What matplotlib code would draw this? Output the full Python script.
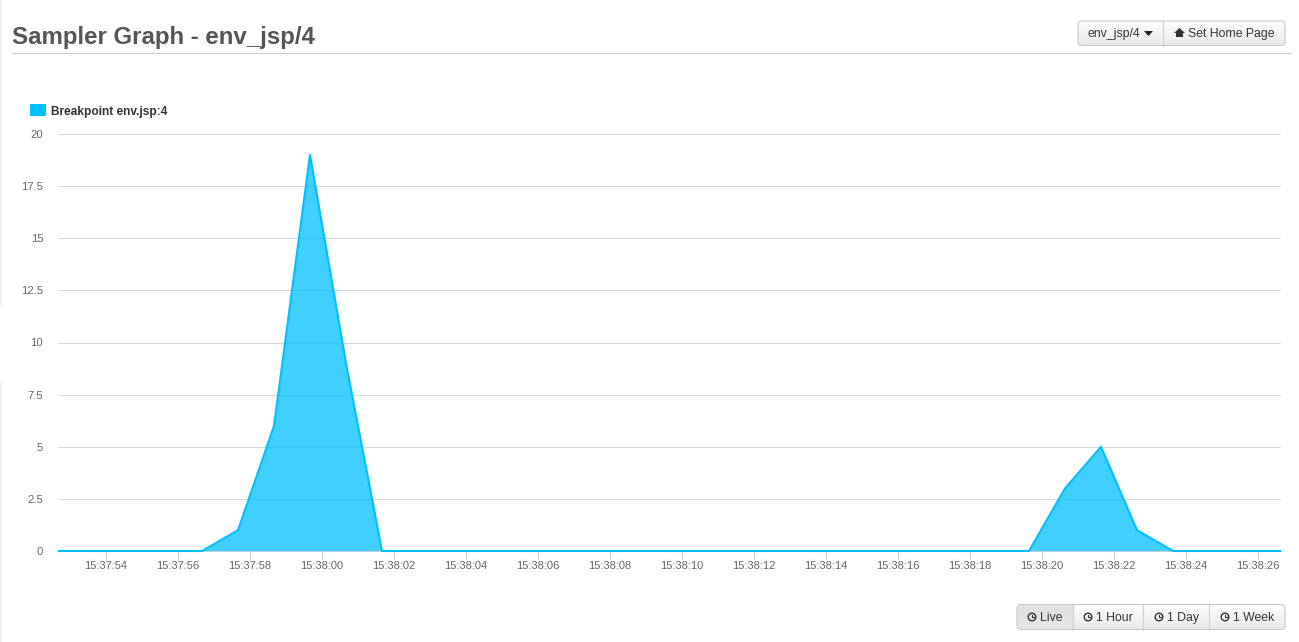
import numpy as np
import matplotlib
matplotlib.use("Agg")
import matplotlib.pyplot as plt
from matplotlib.patches import FancyBboxPatch, Rectangle, Polygon, Circle

# ---- data ----
title_text = "Sampler Graph - env_jsp/4"
series_name = "Breakpoint env.jsp:4"
# seconds after 15:37:00 for each sample
sample_seconds = [52.68, 53.68, 54.68, 55.68, 56.68, 57.68, 58.68, 59.68, 60.68, 61.68,
                  62.67, 63.67, 64.67, 65.67, 66.67, 67.66, 68.66, 69.66, 70.66, 71.66,
                  72.65, 73.65, 74.65, 75.65, 76.65, 77.65, 78.65, 79.65, 80.65, 81.65,
                  82.65, 83.65, 84.65, 85.65, 86.65]
sample_values = [0, 0, 0, 0, 0, 1, 6, 19, 9, 0,
                 0, 0, 0, 0, 0, 0, 0, 0, 0, 0,
                 0, 0, 0, 0, 0, 0, 0, 0, 3, 5,
                 1, 0, 0, 0, 0]
x_tick_seconds = [54, 56, 58, 60, 62, 64, 66, 68, 70, 72, 74, 76, 78, 80, 82, 84, 86]
x_tick_labels = ["15:37:54", "15:37:56", "15:37:58", "15:38:00", "15:38:02", "15:38:04",
                 "15:38:06", "15:38:08", "15:38:10", "15:38:12", "15:38:14", "15:38:16",
                 "15:38:18", "15:38:20", "15:38:22", "15:38:24", "15:38:26"]
y_ticks = [0, 2.5, 5, 7.5, 10, 12.5, 15, 17.5, 20]
y_tick_labels = ["0", "2.5", "5", "7.5", "10", "12.5", "15", "17.5", "20"]
top_buttons = ["env_jsp/4", "Set Home Page"]
range_buttons = ["Live", "1 Hour", "1 Day", "1 Week"]

# ---- figure ----
W, H = 1299, 642
plt.rcParams['font.family'] = ['Liberation Sans', 'DejaVu Sans']
fig = plt.figure(figsize=(W / 100, H / 100), dpi=100, facecolor="white")

L, R, T, B = 58, 1281, 134, 551
ax = fig.add_axes([L / W, 1 - B / H, (R - L) / W, (B - T) / H])
ax.set_xlim(52.68, 86.65)
ax.set_ylim(0, 20)
for s in ("top", "left", "right"):
    ax.spines[s].set_visible(False)
ax.spines["bottom"].set_color("#C0D0E0")
ax.spines["bottom"].set_linewidth(0.72)
ax.set_axisbelow(True)
ax.yaxis.grid(True, color="#D8D8D8", lw=0.72)
ax.set_yticks(y_ticks)
ax.set_yticklabels(y_tick_labels)
ax.set_xticks(x_tick_seconds)
ax.set_xticklabels(x_tick_labels)
ax.tick_params(axis="y", length=0, pad=10.6, labelsize=8.1, labelcolor="#666666")
ax.tick_params(axis="x", length=5.76, width=0.72, color="#C0D0E0", pad=1.2,
               labelsize=8.05, labelcolor="#666666")
ax.fill_between(sample_seconds, sample_values, 0, color="#00BFFF", alpha=0.75, lw=0, zorder=2)
ax.plot(sample_seconds, sample_values, color="#00BFFF", lw=1.5, zorder=3,
        solid_joinstyle="round", solid_capstyle="butt", clip_on=False)

# ---- page chrome, in pixel coordinates ----
ov = fig.add_axes([0, 0, 1, 1], zorder=5)
ov.set_xlim(0, W)
ov.set_ylim(H, 0)
ov.axis("off")
ov.patch.set_alpha(0)

ov.add_patch(Rectangle((0, 0), 2, 305, fc="#EEEEEE", ec="none"))
ov.add_patch(Rectangle((0, 383), 2, H - 383, fc="#EEEEEE", ec="none"))
ov.plot([12, 1291], [53, 53], color="#CCCCCC", lw=0.8)
ov.text(12, 44, title_text, fontsize=17.3, fontweight="bold", color="#555555", va="baseline")

ov.add_patch(Rectangle((30, 104), 16, 12, fc="#00BFFF", ec="none"))
ov.text(51, 115, series_name, fontsize=8.6, fontweight="bold", color="#333333", va="baseline")


def button_group(x0, x1, y0, y1, splits, pressed=None):
    grad = np.linspace(1, 0, 64).reshape(-1, 1)
    outline = FancyBboxPatch((x0, y0), x1 - x0, y1 - y0,
                             boxstyle="round,pad=0,rounding_size=4",
                             fc="none", ec="#C8C8C8", lw=0.8, zorder=4)
    ov.add_patch(outline)
    edges = [x0] + splits + [x1]
    clip = FancyBboxPatch((x0, y0), x1 - x0, y1 - y0,
                          boxstyle="round,pad=0,rounding_size=4",
                          fc="none", ec="none", transform=ov.transData)
    ov.add_patch(clip)
    for i in range(len(edges) - 1):
        if i == pressed:
            c = np.linspace(0.88, 0.90, 64).reshape(-1, 1)
        else:
            c = 0.91 + 0.09 * grad
        im = ov.imshow(c, extent=(edges[i], edges[i + 1], y1, y0), cmap="gray",
                       vmin=0, vmax=1, aspect="auto", zorder=2)
        im.set_clip_path(clip)
    for s in splits:
        ov.plot([s, s], [y0, y1], color="#D0D0D0", lw=0.8, zorder=3)


def clock(cx, cy):
    ov.add_patch(Circle((cx, cy), 3.8, fc="none", ec="#333333", lw=1.0, zorder=5))
    ov.plot([cx, cx, cx + 2.0], [cy - 2.2, cy + 0.4, cy + 0.4], color="#333333", lw=0.8, zorder=5)


def home(cx, cy):
    ov.add_patch(Polygon([(cx - 5.5, cy), (cx, cy - 5), (cx + 5.5, cy)], fc="#333333", ec="none", zorder=5))
    ov.add_patch(Rectangle((cx - 3.5, cy - 0.5), 7, 4.5, fc="#333333", ec="none", zorder=5))


button_group(1078, 1285, 21, 45.5, [1163.5])
ov.text(1088, 37, top_buttons[0], fontsize=8.8, color="#333333", va="baseline")
ov.add_patch(Polygon([(1144, 31), (1153, 31), (1148.5, 36)], fc="#222222", ec="none", zorder=5))
home(1179.5, 33)
ov.text(1188, 37, top_buttons[1], fontsize=8.8, color="#333333", va="baseline")

button_group(1017, 1285, 604.5, 629.5, [1073.5, 1143.5, 1209.5], pressed=0)
label_x = [1040, 1096, 1167, 1233]
clock_x = [1032, 1088, 1159, 1225]
for name, lx, cx in zip(range_buttons, label_x, clock_x):
    clock(cx, 617)
    ov.text(lx, 621, name, fontsize=8.8, color="#333333", va="baseline")

ov.set_xlim(0, W)
ov.set_ylim(H, 0)
fig.savefig("out.png", dpi=100, facecolor="white")
